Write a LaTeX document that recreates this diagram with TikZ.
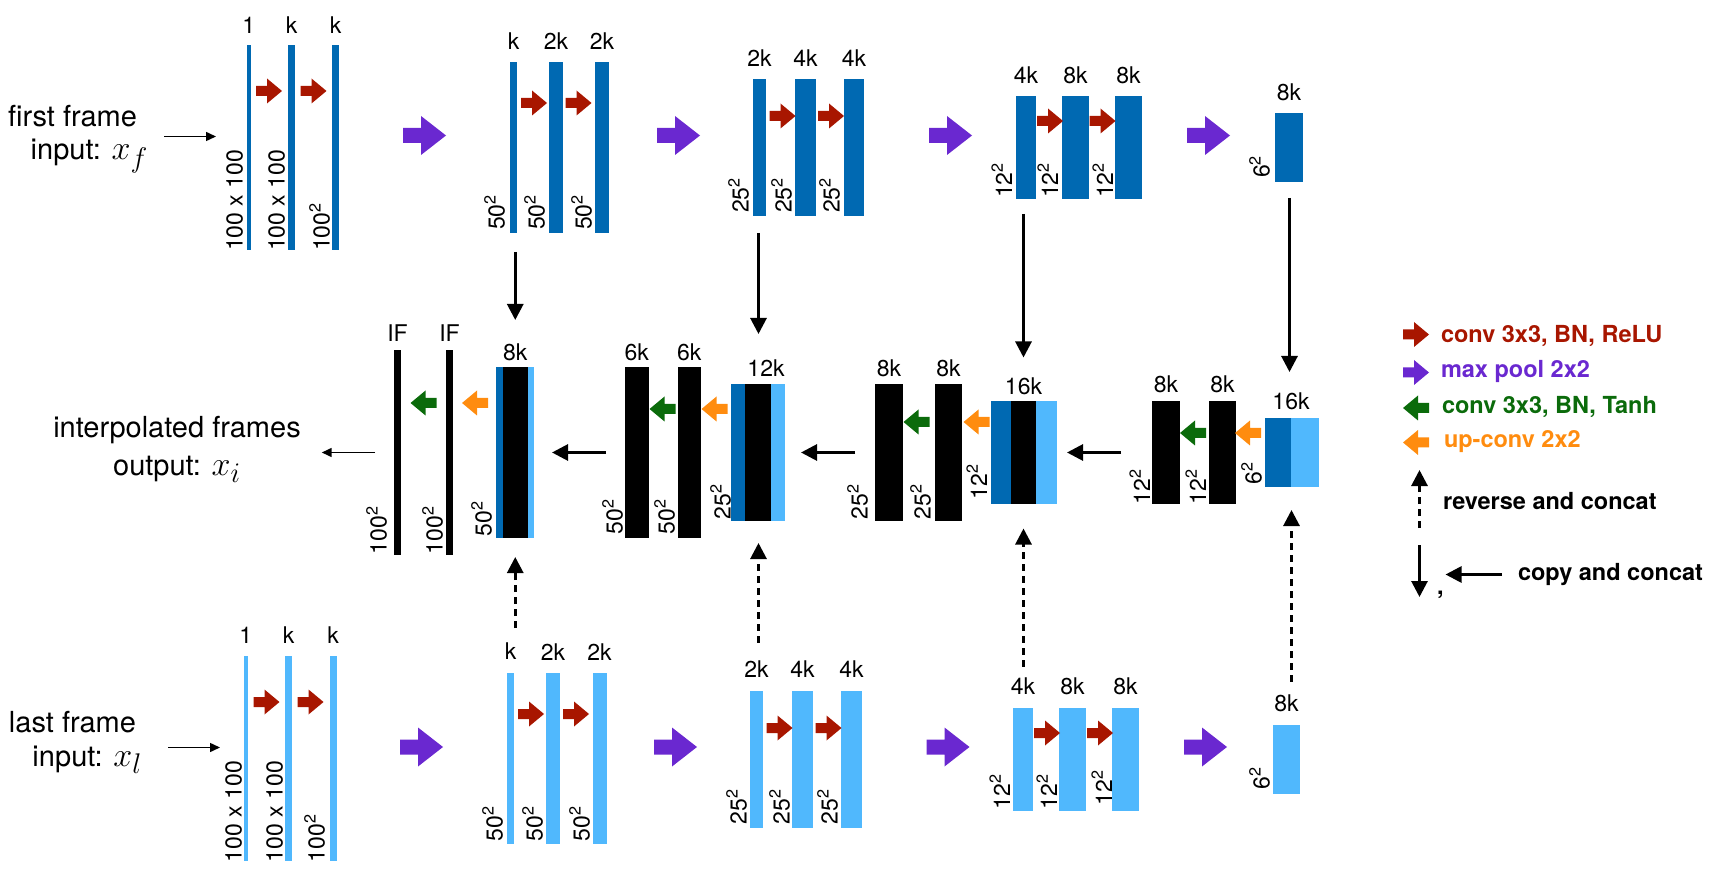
\documentclass[tikz,border=0pt]{standalone}
\usepackage{graphicx}
\usepackage{fontspec}
\setmainfont{TeX Gyre Heros}
\usetikzlibrary{arrows.meta}
\definecolor{cdb}{RGB}{0,105,178}
\definecolor{clb}{RGB}{80,184,253}
\definecolor{cred}{RGB}{168,22,0}
\definecolor{cpur}{RGB}{106,40,208}
\definecolor{cgrn}{RGB}{11,107,11}
\definecolor{corg}{RGB}{255,140,15}
\newcommand{\bigmath}[1]{{\fontsize{24.88}{26}\selectfont\scalebox{1.37}{$#1$}}}
\newcommand{\sq}[1]{#1\textsuperscript{2}}
\begin{document}
\begin{tikzpicture}[x=1pt,y=-1pt,
  every node/.style={inner sep=0pt, outer sep=0pt},
  dbar/.style={rectangle, fill=cdb},
  lbar/.style={rectangle, fill=clb},
  kbar/.style={rectangle, fill=black},
  lab/.style={font=\fontsize{23}{26}\selectfont, anchor=base},
  dimlab/.style={font=\fontsize{23}{26}\selectfont, rotate=90, anchor=south west},
  mainlab/.style={font=\fontsize{29}{34}\selectfont},
  leglab/.style={font=\fontsize{23.5}{27}\selectfont\bfseries, anchor=base west},
  thinarr/.style={-{Triangle[length=10pt,width=9pt]}, line width=1.5pt},
  bigarr/.style={-{Triangle[length=16pt,width=16pt]}, line width=2.9pt},
  dasharr/.style={bigarr, dash pattern=on 7pt off 5pt},
  sarrow/.pic={\fill[#1] (-13,-5) -- (-2,-5) -- (-2,-12.5) -- (13,0) -- (-2,12.5) -- (-2,5) -- (-13,5) -- cycle;},
  barrow/.pic={\fill[#1] (-21.5,-7.5) -- (-3.5,-7.5) -- (-3.5,-19.5) -- (21.5,0) -- (-3.5,19.5) -- (-3.5,7.5) -- (-21.5,7.5) -- cycle;}
]
\useasboundingbox (0,0) rectangle (1722,890);

% ---------------- top row (first frame) ----------------
\node[dbar, minimum width=3.5pt, minimum height=205pt] (T1a) at (248.75,147.5) {};
\node[dbar, minimum width=7pt, minimum height=205pt] (T1b) at (291.5,147.5) {};
\node[dbar, minimum width=7pt, minimum height=205pt] (T1c) at (335.5,147.5) {};
\node[dbar, minimum width=7pt, minimum height=171pt] (T2a) at (513.5,147.5) {};
\node[dbar, minimum width=14pt, minimum height=171pt] (T2b) at (556,147.5) {};
\node[dbar, minimum width=14pt, minimum height=171pt] (T2c) at (602,147.5) {};
\node[dbar, minimum width=13pt, minimum height=137pt] (T3a) at (759.5,147.5) {};
\node[dbar, minimum width=21pt, minimum height=137pt] (T3b) at (805.5,147.5) {};
\node[dbar, minimum width=20pt, minimum height=137pt] (T3c) at (854,147.5) {};
\node[dbar, minimum width=20pt, minimum height=103pt] (T4a) at (1026,147.5) {};
\node[dbar, minimum width=27pt, minimum height=103pt] (T4b) at (1075.5,147.5) {};
\node[dbar, minimum width=27pt, minimum height=103pt] (T4c) at (1128.5,147.5) {};
\node[dbar, minimum width=28pt, minimum height=69pt] (T5) at (1289,147.5) {};

\node[lab] (lT1a) at ([yshift=11pt]T1a.north) {1};
\node[lab] (lT1b) at ([yshift=11pt]T1b.north) {k};
\node[lab] (lT1c) at ([yshift=11pt]T1c.north) {k};
\node[lab] (lT2a) at ([yshift=12pt]T2a.north) {k};
\node[lab] (lT2b) at ([yshift=12pt]T2b.north) {2k};
\node[lab] (lT2c) at ([yshift=12pt]T2c.north) {2k};
\node[lab] (lT3a) at ([yshift=12pt]T3a.north) {2k};
\node[lab] (lT3b) at ([yshift=12pt]T3b.north) {4k};
\node[lab] (lT3c) at ([yshift=12pt]T3c.north) {4k};
\node[lab] (lT4a) at ([yshift=12pt]T4a.north) {4k};
\node[lab] (lT4b) at ([yshift=12pt]T4b.north) {8k};
\node[lab] (lT4c) at ([yshift=12pt]T4c.north) {8k};
\node[lab] (lT5) at ([yshift=12pt]T5.north) {8k};

\node[dimlab] (dT1a) at (243,251) {100 x 100};
\node[dimlab] (dT1b) at (285,251) {100 x 100};
\node[dimlab] (dT1c) at (330,251) {\sq{100}};
\node[dimlab] (dT2a) at (505,230) {\sq{50}};
\node[dimlab] (dT2b) at (545,230) {\sq{50}};
\node[dimlab] (dT2c) at (592,230) {\sq{50}};
\node[dimlab] (dT3a) at (749,213) {\sq{25}};
\node[dimlab] (dT3b) at (792,213) {\sq{25}};
\node[dimlab] (dT3c) at (840,213) {\sq{25}};
\node[dimlab] (dT4a) at (1012,198) {\sq{12}};
\node[dimlab] (dT4b) at (1058,198) {\sq{12}};
\node[dimlab] (dT4c) at (1113,198) {\sq{12}};
\node[dimlab] (dT5) at (1270,178) {\sq{6}};

\pic at (269,91) {sarrow=cred};
\pic at (313.5,91) {sarrow=cred};
\pic at (534,103) {sarrow=cred};
\pic at (578.5,103) {sarrow=cred};
\pic at (782.5,116) {sarrow=cred};
\pic at (831,116) {sarrow=cred};
\pic at (1050,121) {sarrow=cred};
\pic at (1102.5,121) {sarrow=cred};
\pic at (424.5,135.5) {barrow=cpur};
\pic at (678.5,135.5) {barrow=cpur};
\pic at (950.5,135.5) {barrow=cpur};
\pic at (1208.5,135.5) {barrow=cpur};

\node[mainlab, anchor=base east] (inF1) at (137,127) {first frame};
\node[mainlab, anchor=base east] (inF2) at (148,160) {input: \bigmath{x_f}};
\coordinate (inFarr) at (164,136.5);
\draw[thinarr, shorten >=31pt] (inFarr) -- (inFarr -| T1a.west);

% ---------------- bottom row (last frame) ----------------
\node[lbar, minimum width=3.5pt, minimum height=205pt] (B1a) at (245.75,758.5) {};
\node[lbar, minimum width=7pt, minimum height=205pt] (B1b) at (288.5,758.5) {};
\node[lbar, minimum width=7pt, minimum height=205pt] (B1c) at (333,758.5) {};
\node[lbar, minimum width=7pt, minimum height=171pt] (B2a) at (510.5,758.5) {};
\node[lbar, minimum width=14pt, minimum height=171pt] (B2b) at (553,758.5) {};
\node[lbar, minimum width=14pt, minimum height=171pt] (B2c) at (599.5,758.5) {};
\node[lbar, minimum width=13pt, minimum height=137pt] (B3a) at (756.5,759) {};
\node[lbar, minimum width=21pt, minimum height=137pt] (B3b) at (802.5,759) {};
\node[lbar, minimum width=21pt, minimum height=137pt] (B3c) at (851.5,759) {};
\node[lbar, minimum width=20pt, minimum height=103pt] (B4a) at (1023,759) {};
\node[lbar, minimum width=27pt, minimum height=103pt] (B4b) at (1072.5,759) {};
\node[lbar, minimum width=27pt, minimum height=103pt] (B4c) at (1125.5,759) {};
\node[lbar, minimum width=27pt, minimum height=69pt] (B5) at (1286.5,759) {};

\node[lab] (lB1a) at ([yshift=13pt]B1a.north) {1};
\node[lab] (lB1b) at ([yshift=13pt]B1b.north) {k};
\node[lab] (lB1c) at ([yshift=13pt]B1c.north) {k};
\node[lab] (lB2a) at ([yshift=14pt]B2a.north) {k};
\node[lab] (lB2b) at ([yshift=13pt]B2b.north) {2k};
\node[lab] (lB2c) at ([yshift=13pt]B2c.north) {2k};
\node[lab] (lB3a) at ([yshift=13pt]B3a.north) {2k};
\node[lab] (lB3b) at ([yshift=13pt]B3b.north) {4k};
\node[lab] (lB3c) at ([yshift=13pt]B3c.north) {4k};
\node[lab] (lB4a) at ([yshift=13pt]B4a.north) {4k};
\node[lab] (lB4b) at ([yshift=13pt]B4b.north) {8k};
\node[lab] (lB4c) at ([yshift=13pt]B4c.north) {8k};
\node[lab] (lB5) at ([yshift=13pt]B5.north) {8k};

\node[dimlab] (dB1a) at (242,862) {100 x 100};
\node[dimlab] (dB1b) at (283,862) {100 x 100};
\node[dimlab] (dB1c) at (325,862) {\sq{100}};
\node[dimlab] (dB2a) at (503,841) {\sq{50}};
\node[dimlab] (dB2b) at (543,841) {\sq{50}};
\node[dimlab] (dB2c) at (590,841) {\sq{50}};
\node[dimlab] (dB3a) at (747,824) {\sq{25}};
\node[dimlab] (dB3b) at (790,824) {\sq{25}};
\node[dimlab] (dB3c) at (838,824) {\sq{25}};
\node[dimlab] (dB4a) at (1010,809) {\sq{12}};
\node[dimlab] (dB4b) at (1057,809) {\sq{12}};
\node[dimlab] (dB4c) at (1112,805) {\sq{12}};
\node[dimlab] (dB5) at (1270,789) {\sq{6}};

\pic at (266.5,702) {sarrow=cred};
\pic at (310.5,702) {sarrow=cred};
\pic at (531,714) {sarrow=cred};
\pic at (576,714) {sarrow=cred};
\pic at (779.5,728) {sarrow=cred};
\pic at (828.5,728) {sarrow=cred};
\pic at (1047,733) {sarrow=cred};
\pic at (1100,733) {sarrow=cred};
\pic at (421.5,747) {barrow=cpur};
\pic at (675.5,747) {barrow=cpur};
\pic at (948,747) {barrow=cpur};
\pic at (1205.5,747) {barrow=cpur};

\node[mainlab, anchor=base east] (inL1) at (136,732) {last frame};
\node[mainlab, anchor=base east] (inL2) at (142,766) {input: \bigmath{x_l}};
\coordinate (inLarr) at (168,747.5);
\draw[thinarr, shorten >=24pt] (inLarr) -- (inLarr -| B1a.west);

% ---------------- middle row (decoder) ----------------
\node[kbar, minimum width=7pt, minimum height=205pt] (M1a) at (397.5,452.5) {};
\node[kbar, minimum width=7pt, minimum height=205pt] (M1b) at (449.5,452.5) {};
\node[dbar, minimum width=7pt, minimum height=171pt] (M1cd) at (499.5,452.5) {};
\node[kbar, minimum width=24.5pt, minimum height=171pt] (M1ck) at (515.25,452.5) {};
\node[lbar, minimum width=6.5pt, minimum height=171pt] (M1cl) at (530.75,452.5) {};
\node[kbar, minimum width=23.5pt, minimum height=171pt] (M2a) at (636.75,452.5) {};
\node[kbar, minimum width=23.5pt, minimum height=171pt] (M2b) at (689.25,452.5) {};
\node[dbar, minimum width=14pt, minimum height=137pt] (M2cd) at (738,452.5) {};
\node[kbar, minimum width=26pt, minimum height=137pt] (M2ck) at (758,452.5) {};
\node[lbar, minimum width=14pt, minimum height=137pt] (M2cl) at (778,452.5) {};
\node[kbar, minimum width=28pt, minimum height=137pt] (M3a) at (889,452.5) {};
\node[kbar, minimum width=27pt, minimum height=137pt] (M3b) at (948.5,452.5) {};
\node[dbar, minimum width=20pt, minimum height=102pt] (M3cd) at (1001,452.5) {};
\node[kbar, minimum width=25pt, minimum height=102pt] (M3ck) at (1023.5,452.5) {};
\node[lbar, minimum width=21pt, minimum height=102pt] (M3cl) at (1046.5,452.5) {};
\node[kbar, minimum width=28pt, minimum height=103pt] (M4a) at (1166,452.5) {};
\node[kbar, minimum width=27pt, minimum height=103pt] (M4b) at (1222.5,452.5) {};
\node[dbar, minimum width=26pt, minimum height=69pt] (M4cd) at (1278,452.5) {};
\node[lbar, minimum width=28pt, minimum height=69pt] (M4cl) at (1305,452.5) {};

\node[lab] (lM1a) at ([yshift=8pt]M1a.north) {IF};
\node[lab] (lM1b) at ([yshift=8pt]M1b.north) {IF};
\node[lab] (lM1c) at ([yshift=6pt]M1ck.north) {8k};
\node[lab] (lM2a) at ([yshift=6pt]M2a.north) {6k};
\node[lab] (lM2b) at ([yshift=6pt]M2b.north) {6k};
\node[lab] (lM2c) at ([xshift=8pt,yshift=7pt]M2ck.north) {12k};
\node[lab] (lM3a) at ([yshift=7pt]M3a.north) {8k};
\node[lab] (lM3b) at ([yshift=7pt]M3b.north) {8k};
\node[lab] (lM3c) at ([yshift=7pt]M3ck.north) {16k};
\node[lab] (lM4a) at ([yshift=8pt]M4a.north) {8k};
\node[lab] (lM4b) at ([yshift=8pt]M4b.north) {8k};
\node[lab] (lM4c) at ([yshift=8pt]M4cd.north east) {16k};

\node[dimlab] (dM1a) at (387,554) {\sq{100}};
\node[dimlab] (dM1b) at (443,554) {\sq{100}};
\node[dimlab] (dM1c) at (492,536) {\sq{50}};
\node[dimlab] (dM2a) at (623,534) {\sq{50}};
\node[dimlab] (dM2b) at (675,534) {\sq{50}};
\node[dimlab] (dM2c) at (731,519) {\sq{25}};
\node[dimlab] (dM3a) at (868,519) {\sq{25}};
\node[dimlab] (dM3b) at (931,519) {\sq{25}};
\node[dimlab] (dM3c) at (987,499) {\sq{12}};
\node[dimlab] (dM4a) at (1150,504) {\sq{12}};
\node[dimlab] (dM4b) at (1206,504) {\sq{12}};
\node[dimlab] (dM4c) at (1262,484) {\sq{6}};

\pic[rotate=180] at (423.5,403) {sarrow=cgrn};
\pic[rotate=180] at (475,403) {sarrow=corg};
\pic[rotate=180] at (662.5,409) {sarrow=cgrn};
\pic[rotate=180] at (714.5,409) {sarrow=corg};
\pic[rotate=180] at (916.5,422) {sarrow=cgrn};
\pic[rotate=180] at (976.5,422) {sarrow=corg};
\pic[rotate=180] at (1193,433) {sarrow=cgrn};
\pic[rotate=180] at (1248,433) {sarrow=corg};

\node[mainlab, align=center] (outT) at (177,449) {interpolated frames\\[4pt]output: \bigmath{x_i}};

% horizontal connectors in the decoder
\draw[bigarr, shorten <=31pt, shorten >=10pt] (M4a.west) -- (M3cl.east);
\draw[bigarr, shorten <=20pt, shorten >=16pt] (M3a.west) -- (M2cl.east);
\draw[bigarr, shorten <=19pt, shorten >=18pt] (M2a.west) -- (M1cl.east);
\draw[thinarr, shorten <=19pt, shorten >=21pt] (M1a.west) -- (M1a.west -| outT.east);

% copy and concat (top to middle)
\draw[bigarr, shorten <=19pt, shorten >=47pt] (M1ck.north |- T2a.south) -- (M1ck.north);
\draw[bigarr, shorten <=17pt, shorten >=50pt] ([xshift=0.5pt]M2ck.north |- T3a.south) -- ([xshift=0.5pt]M2ck.north);
\draw[bigarr, shorten <=15pt, shorten >=44pt] (M3ck.north |- T4a.south) -- (M3ck.north);
\draw[bigarr, shorten <=16pt, shorten >=46pt] ([xshift=-1.5pt]M4cd.north east |- T5.south) -- ([xshift=-1.5pt]M4cd.north east);

% reverse and concat (bottom to middle)
\draw[dasharr, shorten <=45pt, shorten >=19pt] (M1ck.south |- B2a.north) -- (M1ck.south);
\draw[dasharr, shorten <=48pt, shorten >=22pt] ([xshift=0.5pt]M2ck.south |- B3a.north) -- ([xshift=0.5pt]M2ck.south);
\draw[dasharr, shorten <=41pt, shorten >=25pt] (M3ck.south |- B4a.north) -- (M3ck.south);
\draw[dasharr, shorten <=43pt, shorten >=23pt] ([xshift=0.5pt]M4cd.south east |- B5.north) -- ([xshift=0.5pt]M4cd.south east);

% ---------------- legend ----------------
\pic at (1416,334.5) {sarrow=cred};
\pic at (1416,372.5) {sarrow=cpur};
\pic[rotate=180] at (1416,408) {sarrow=cgrn};
\pic[rotate=180] at (1416,442.5) {sarrow=corg};
\node[leglab, text=cred] (legR) at (1441,343) {conv 3x3, BN, ReLU};
\node[leglab, text=cpur] (legP) at (1441,378) {max pool 2x2};
\node[leglab, text=cgrn] (legG) at (1442,414) {conv 3x3, BN, Tanh};
\node[leglab, text=corg] (legO) at (1444,448) {up-conv 2x2};
\node[leglab] (legRev) at (1443,509) {reverse and concat};
\node[leglab] (legCopy) at (1518,580) {copy and concat};
\node[leglab] (legComma) at (1437,594) {,};
\coordinate (revS) at (1419.5,528);
\coordinate (revE) at (1419.5,470);
\draw[dasharr] (revS) -- (revE);
\coordinate (copS) at (1419.5,545);
\coordinate (copE) at (1419.5,597);
\draw[bigarr] (copS) -- (copE);
\coordinate (cpS) at (1502,574.5);
\draw[bigarr, shorten >=2pt] (cpS) -- (cpS -| legComma.east);
\end{tikzpicture}
\end{document}
